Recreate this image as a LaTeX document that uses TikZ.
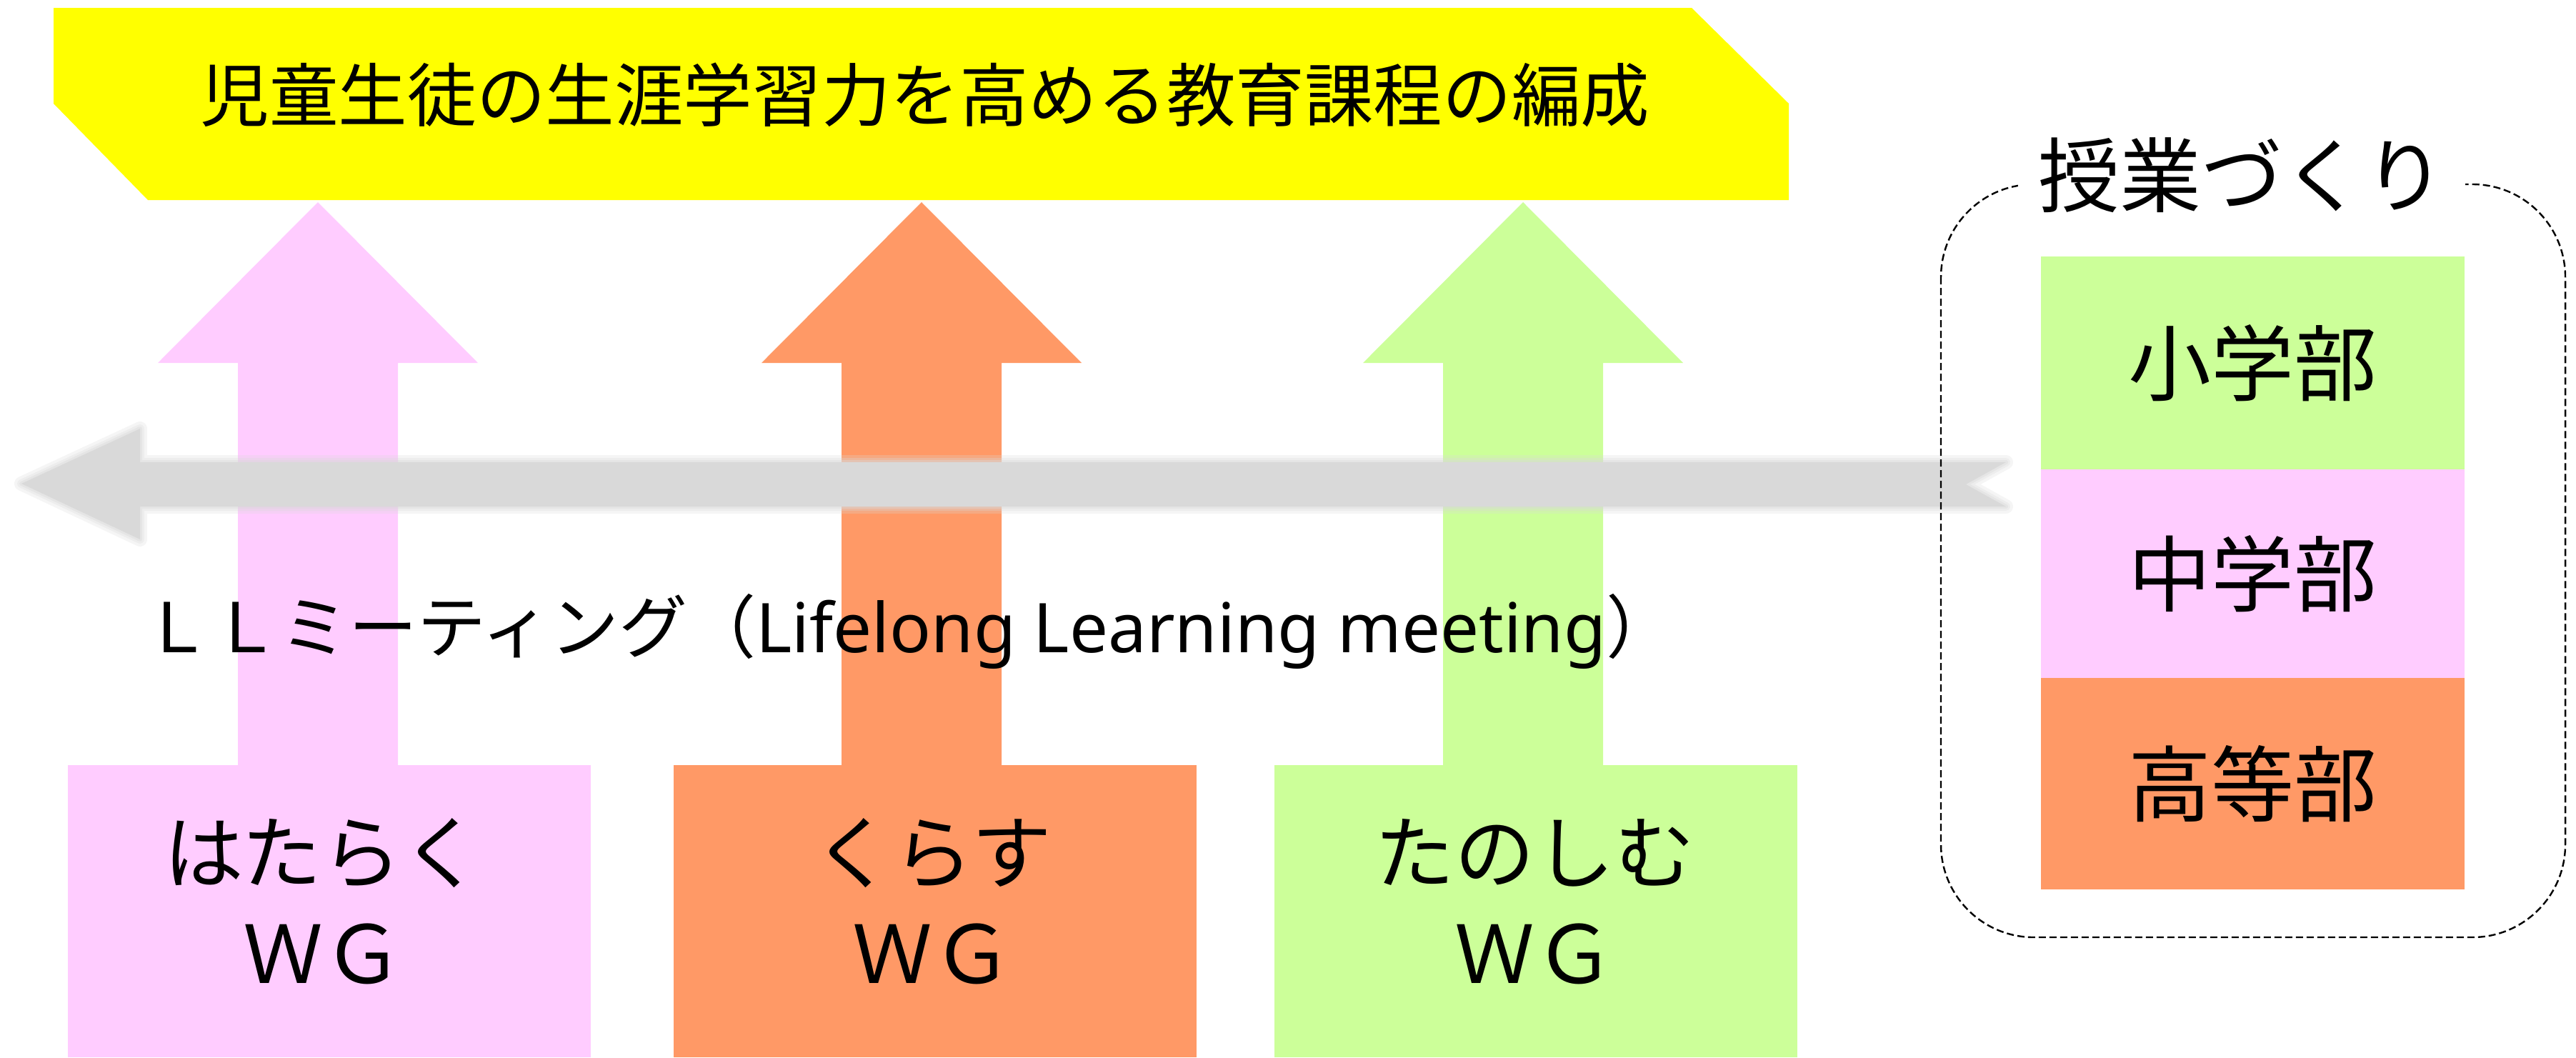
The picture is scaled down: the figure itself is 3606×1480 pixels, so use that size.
\documentclass[tikz,border=0pt]{standalone}
\usepackage{fontspec}
\setmainfont{Noto Sans CJK JP}
\newfontfamily\latinfont{Noto Sans}
\usetikzlibrary{calc}
\definecolor{banyellow}{HTML}{FFFF00}
\definecolor{pinkc}{HTML}{FFCCFF}
\definecolor{orangec}{HTML}{FF9966}
\definecolor{greenc}{HTML}{CCFF99}
\definecolor{llgray}{HTML}{D9D9D9}
\tikzset{
  titletext/.style={inner sep=0pt, font=\fontsize{48.3}{58}\selectfont},
  wgbox/.style={rectangle, inner sep=0pt, minimum width=366pt, minimum height=204.5pt, draw=none},
  wglabel/.style={inner sep=0pt, align=center, font=\fontsize{56}{70.5}\selectfont},
  deptbox/.style={rectangle, inner sep=0pt, minimum width=296.5pt, draw=none, font=\fontsize{58}{70}\selectfont},
  paneltitle/.style={fill=white, inner xsep=14pt, inner ysep=4pt, font=\fontsize{57}{68}\selectfont},
  dashbox/.style={draw=black, line width=1.2pt, dash pattern=on 5pt off 2.5pt, rounded corners=65pt},
  lltext/.style={inner sep=0pt, anchor=base west, font=\fontsize{48}{58}\selectfont},
}
\newcommand{\blockuparrow}[2]{%
  \fill[#1] (#2) -- ++(224,225) -- ++(-112,0) -- ++(0,570) -- ++(-224,0) -- ++(0,-570) -- ++(-112,0) -- cycle;}
\begin{document}
\begin{tikzpicture}[x=0.5pt,y=-0.5pt]
\useasboundingbox (0,0) rectangle (3606,1480);
% banner
\fill[banyellow] (75,11) -- (2368,11) -- (2504,145) -- (2504,280) -- (207,280) -- (75,145) -- cycle;
\node[titletext] (title) at (1295,133) {児童生徒の生涯学習力を高める教育課程の編成};
% arrow tips
\coordinate (hTip) at (445,283);
\coordinate (kTip) at (1290,283);
\coordinate (tTip) at (2132,283);
\blockuparrow{pinkc}{hTip}
\blockuparrow{orangec}{kTip}
\blockuparrow{greenc}{tTip}
% WG boxes
\node[wgbox, fill=pinkc] (hbox) at (460.5,1275.5) {};
\node[wgbox, fill=orangec] (kbox) at (1308.5,1275.5) {};
\node[wgbox, fill=greenc] (tbox) at (2150,1275.5) {};
\node[wglabel] (hlab) at (452,1262) {はたらく\\ＷＧ};
\node[wglabel] (klab) at (1305,1262) {くらす\\ＷＧ};
\node[wglabel] (tlab) at (2148,1262) {たのしむ\\ＷＧ};
% gray LL arrow (soft edges)
\foreach \w/\o in {10/0.25,6/0.3,3/0.4}{
  \draw[draw=llgray, line width=\w pt, line join=round, opacity=\o]
    (30,677) -- (196,600) -- (196,647) -- (2808,647) -- (2752,678) -- (2808,709) -- (196,709) -- (196,755) -- cycle;
}
\fill[llgray] (30,677) -- (196,600) -- (196,647) -- (2808,647) -- (2752,678) -- (2808,709) -- (196,709) -- (196,755) -- cycle;
\node[lltext] (ll) at (200,913) {ＬＬミーティング（{\latinfont Lifelong Learning meeting}）};
% right panel
\draw[dashbox] (2717,258) rectangle (3591,1312);
\node[paneltitle] (jugyo) at (3138,245) {授業づくり};
\node[deptbox, fill=greenc, minimum height=149pt] (sho) at (3153.5,508) {小学部};
\node[deptbox, fill=pinkc, minimum height=146pt] (chu) at (3153.5,803) {中学部};
\node[deptbox, fill=orangec, minimum height=148pt] (ko) at (3153.5,1097) {高等部};
\end{tikzpicture}
\end{document}
